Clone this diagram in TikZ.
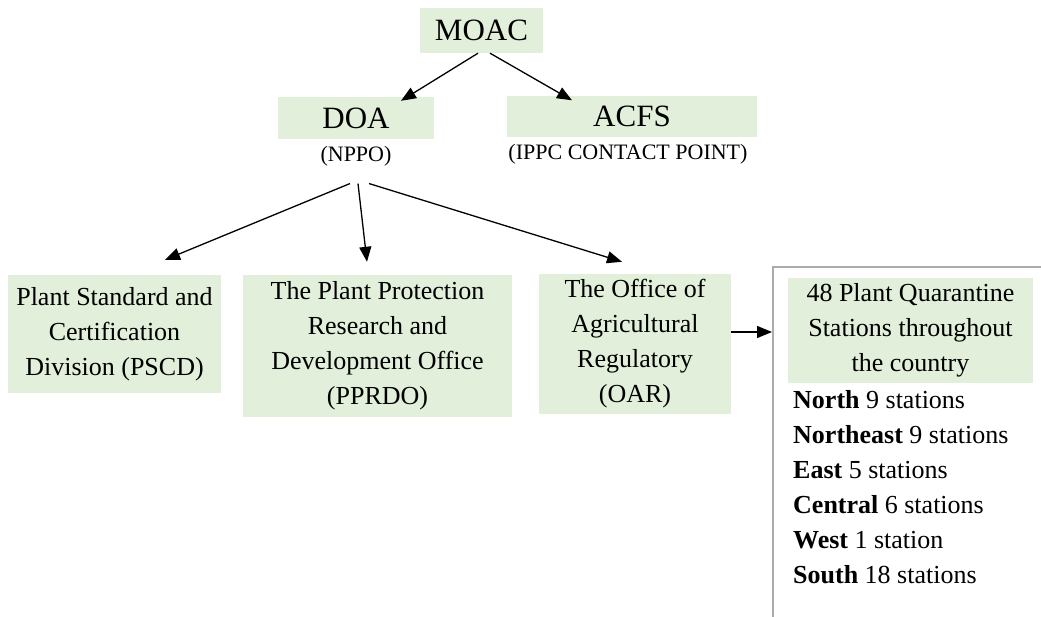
\documentclass[tikz,border=0pt]{standalone}
\usepackage{fontspec}
\setmainfont{Liberation Serif}
\usepackage{xcolor}
\usetikzlibrary{positioning,arrows.meta}
\definecolor{boxgreen}{RGB}{226,239,218}
\definecolor{framegray}{RGB}{172,172,172}

\begin{document}
\begin{tikzpicture}[x=1pt,y=-1pt,%
  box/.style={fill=boxgreen,align=center,inner sep=0pt,font=\fontsize{26}{35}\selectfont},%
  topbox/.style={box,font=\fontsize{31}{36}\selectfont},%
  sub/.style={inner sep=0pt,font=\fontsize{22}{26}\selectfont},%
  listline/.style={anchor=base west,inner sep=0pt,font=\fontsize{26}{35}\selectfont},%
  arr/.style={-{Triangle[length=15pt,width=12pt]},line width=1.3pt}%
  ]
  \useasboundingbox (0,0) rectangle (1041,617);
%
  \node (moac) [topbox,minimum width=123pt,minimum height=45pt] at (481.5,30.5) {MOAC};
  \node (doa)  [topbox,minimum width=156pt,minimum height=42pt] at (356,118) {DOA};
  \node (acfs) [topbox,minimum width=250pt,minimum height=41pt] at (632,116.5) {ACFS};
  \node (nppo) [sub,below=7pt of doa] {(NPPO)};
  \node (ippc) [sub,below=7pt of acfs,xshift=-4pt] {(IPPC CONTACT POINT)};
%
  \node (pscd)  [box,minimum width=213pt,minimum height=118pt] at (114.5,334) {Plant Standard and\\Certification\\Division (PSCD)};
  \node (pprdo) [box,minimum width=269pt,minimum height=142pt] at (377.5,346) {The Plant Protection\\Research and\\Development Office\\(PPRDO)};
  \node (oar)   [box,minimum width=192pt,minimum height=140pt] at (635,344) {The Office of\\Agricultural\\Regulatory\\(OAR)};
%
  \draw[framegray,line width=2pt] (1041,267) -- (773,267) -- (773,617);
  \coordinate (fr) at (772,332);
  \node (pqs) [box,minimum width=245pt,minimum height=105pt] at (910.5,330.5) {48 Plant Quarantine\\Stations throughout\\the country};
%
  \foreach \reg/\num [count=\i] in {North/9 stations,Northeast/9 stations,East/5 stations,Central/6 stations,West/1 station,South/18 stations}
    \node (r\i) [listline] at (793,373+35*\i) {\textbf{\reg} \num};
%
  \draw[arr] ([xshift=-3.5pt]moac.south) -- ([xshift=45pt,yshift=-4pt]doa.north);
  \draw[arr] ([xshift=8.5pt]moac.south) -- ([xshift=-60pt,yshift=-4.5pt]acfs.north);
%
  \draw[arr] ([xshift=-6pt,yshift=-17pt]nppo.south) -- ([xshift=50.5pt,yshift=15pt]pscd.north);
  \draw[arr] ([xshift=2pt,yshift=-17pt]nppo.south) -- ([xshift=-10.5pt,yshift=13pt]pprdo.north);
  \draw[arr] ([xshift=13pt,yshift=-17pt]nppo.south) -- ([xshift=-13pt,yshift=12pt]oar.north);
%
  \draw[arr] ([yshift=12pt]oar.east) -- (fr);
%
\end{tikzpicture}
\end{document}
